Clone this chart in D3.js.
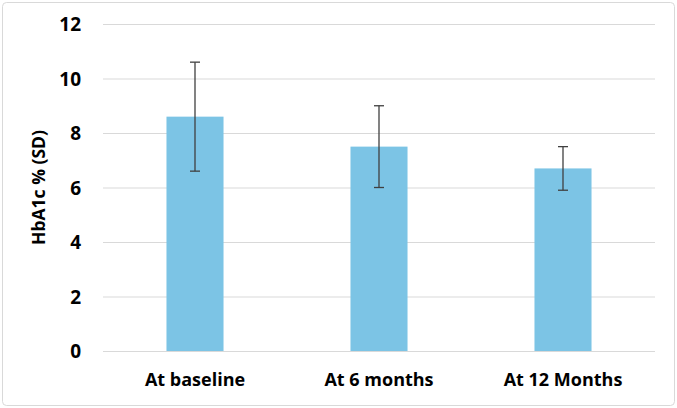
<!DOCTYPE html>
<html>
<head>
<meta charset="utf-8">
<script src="https://cdn.jsdelivr.net/npm/d3@7"></script>
<style>
  body { margin: 0; background: #fff; }
  svg text { font-family: "Open Sans", sans-serif; font-weight: bold; fill: #000; }
</style>
</head>
<body>
<svg id="chart"></svg>
<script>
// data
const categories = ["At baseline", "At 6 months", "At 12 Months"];
const means = [8.6, 7.5, 6.7];
const sds = [2.0, 1.5, 0.8];
const yTicks = [0, 2, 4, 6, 8, 10, 12];

const width = 677, height = 408;
const margin = { top: 24, right: 22, bottom: 57, left: 103 };

const svg = d3.select("#chart")
  .attr("width", width)
  .attr("height", height);

// outer frame
svg.append("rect")
  .attr("x", 2.5).attr("y", 2.5)
  .attr("width", width - 5).attr("height", height - 5)
  .attr("rx", 4)
  .attr("fill", "#fff")
  .attr("stroke", "#d9d9d9");

const x = d3.scaleBand()
  .domain(categories)
  .range([margin.left, width - margin.right])
  .padding(0);

const y = d3.scaleLinear()
  .domain([0, 12])
  .range([height - margin.bottom, margin.top]);

// gridlines
svg.append("g")
  .selectAll("line")
  .data(yTicks)
  .enter()
  .append("line")
  .attr("x1", margin.left)
  .attr("x2", width - margin.right)
  .attr("y1", d => y(d) + 0.5)
  .attr("y2", d => y(d) + 0.5)
  .attr("stroke", "#d9d9d9")
  .attr("stroke-width", 1);

// y tick labels
const yAxis = svg.append("g")
  .attr("transform", `translate(${margin.left},0)`)
  .call(d3.axisLeft(y).tickValues(yTicks).tickSize(0).tickPadding(22));
yAxis.select(".domain").remove();
yAxis.selectAll("text").attr("font-size", 19).attr("font-family", null).attr("dy", "0.35em");

// x labels
const xAxis = svg.append("g")
  .attr("transform", `translate(0,${height - margin.bottom})`)
  .call(d3.axisBottom(x).tickSize(0).tickPadding(22));
xAxis.select(".domain").remove();
xAxis.selectAll("text").attr("font-size", 18).attr("font-family", null);

const barW = x.bandwidth() * 0.31;

// bars
svg.append("g")
  .selectAll("rect")
  .data(categories)
  .enter()
  .append("rect")
  .attr("x", d => x(d) + x.bandwidth() / 2 - barW / 2)
  .attr("y", (d, i) => y(means[i]))
  .attr("width", barW)
  .attr("height", (d, i) => y(0) - y(means[i]))
  .attr("fill", "#7cc4e5");

// error bars
const err = svg.append("g")
  .attr("stroke", "#404040")
  .attr("stroke-width", 1.3);
categories.forEach((c, i) => {
  const cx = x(c) + x.bandwidth() / 2;
  const hi = y(means[i] + sds[i]), lo = y(means[i] - sds[i]);
  err.append("line").attr("x1", cx).attr("x2", cx).attr("y1", hi).attr("y2", lo);
  err.append("line").attr("x1", cx - 5).attr("x2", cx + 5).attr("y1", hi).attr("y2", hi);
  err.append("line").attr("x1", cx - 5).attr("x2", cx + 5).attr("y1", lo).attr("y2", lo);
});

// y title
svg.append("text")
  .attr("transform", `translate(45,${(y(0) + y(12)) / 2}) rotate(-90)`)
  .attr("text-anchor", "middle")
  .attr("font-size", 17.5)
  .text("HbA1c % (SD)");
</script>
</body>
</html>
